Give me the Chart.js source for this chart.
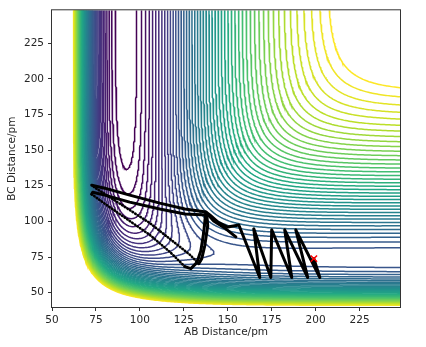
<!DOCTYPE html>
<html>
<head>
<meta charset="utf-8">
<script src="https://cdn.jsdelivr.net/npm/chart.js@4.4.0/dist/chart.umd.min.js"></script>
<style>
  html, body { margin: 0; padding: 0; background: #fff; }
  #pes { display: block; }
</style>
</head>
<body>
<canvas id="pes" width="426" height="347"></canvas>
<script>
// Collinear F-H-H LEPS surface. Pair order: AB (F-H), BC (H-H), AC (F-H)
const wellDepth = [590, 458, 590];              // kJ/mol
const bondLength = [91.7, 74.1, 91.7];          // pm
const morseBeta = [0.02219, 0.01942, 0.02219];  // 1/pm
const satoK = [0.167, 0.19, 0.167];

// contour levels (kJ/mol)
const levelLow = -579;
const levelHigh = -89;
const levelStep = 10;

const xTicks = [50, 75, 100, 125, 150, 175, 200, 225];
const yTicks = [50, 75, 100, 125, 150, 175, 200, 225];

// trajectory [AB, BC] in pm, split into the dense and the sparse stretches
const trajApproach = [
  [199.0, 73.9], [202.4, 60.7], [188.7, 94.1], [195.5, 60.7], [182.4, 94.1],
  [186.4, 60.7], [175.0, 94.1], [174.5, 60.7], [164.8, 94.8], [168.2, 60.7],
  [156.3, 97.5], [150.0, 96.1], [144.3, 99.6], [139.8, 104.5], [137.5, 106.6],
  [136.3, 92.0], [134.7, 79.4], [132.4, 71.1], [129.0, 66.9], [125.6, 68.3]
];
const trajFast1 = [
  [125.6, 68.3], [117.0, 78.7], [105.6, 90.6], [94.2, 100.3], [82.8, 110.0],
  [74.9, 117.0], [72.6, 119.1]
];
const trajReturn1 = [
  [72.6, 119.1], [73.2, 120.5], [80.0, 118.4], [94.2, 113.5], [111.3, 108.7],
  [125.6, 105.2], [138.1, 104.5], [138.6, 96.8], [136.9, 82.9], [135.2, 73.9],
  [133.5, 70.4]
];
const trajFast2 = [
  [133.5, 70.4], [128.4, 76.7], [117.0, 87.8], [105.6, 98.9], [94.2, 108.0],
  [82.8, 117.0], [74.9, 123.3], [72.6, 125.4]
];
const trajReturn2 = [
  [72.6, 125.4], [80.0, 123.3], [94.2, 118.4], [111.3, 112.8], [125.6, 108.7],
  [137.5, 106.6], [142.0, 100.3], [148.9, 94.8], [154.6, 89.2]
];
const startPoint = [[199.0, 73.9]];

// viridis, sampled every 0.1
const viridis = ['#440154', '#482475', '#414487', '#355f8d', '#2a788e', '#21918c',
                 '#22a884', '#44bf70', '#7ad151', '#bddf26', '#fde725'];

function hexRgb(h) {
  return [1, 3, 5].map(i => parseInt(h.slice(i, i + 2), 16));
}
function cmap(t) {
  t = Math.min(1, Math.max(0, t)) * (viridis.length - 1);
  const i = Math.min(viridis.length - 2, Math.floor(t)), f = t - i;
  const a = hexRgb(viridis[i]), b = hexRgb(viridis[i + 1]);
  return 'rgb(' + a.map((v, k) => Math.round(v + (b[k] - v) * f)).join(',') + ')';
}

function leps(rab, rbc) {
  const r = [rab, rbc, rab + rbc];
  const Q = [], J = [];
  for (let i = 0; i < 3; i++) {
    const e1 = Math.exp(-morseBeta[i] * (r[i] - bondLength[i]));
    const e2 = e1 * e1;
    const k = satoK[i];
    const f = wellDepth[i] / (4 * (1 + k));
    Q.push(f * ((3 + k) * e2 - (2 + 6 * k) * e1));
    J.push(f * ((1 + 3 * k) * e2 - (6 + 2 * k) * e1));
  }
  const s = ((J[0] - J[1]) ** 2 + (J[1] - J[2]) ** 2 + (J[2] - J[0]) ** 2) / 2;
  return Q[0] + Q[1] + Q[2] - Math.sqrt(s);
}

// grid over the plotted range
const xs = [], ys = [];
for (let x = 50; x <= 248; x += 1) xs.push(x);
for (let y = 40; y <= 248; y += 1) ys.push(y);
const nx = xs.length, ny = ys.length;
const V = new Float64Array(nx * ny);
for (let j = 0; j < ny; j++)
  for (let i = 0; i < nx; i++) V[j * nx + i] = leps(xs[i], ys[j]);

// marching squares, segments joined into polylines
function contourLines(level) {
  const edgePoint = id => {
    const k = id >> 1, i = k % nx, j = (k - i) / nx;
    const a = V[j * nx + i];
    if (id & 1) {
      const b = V[(j + 1) * nx + i];
      return { x: xs[i], y: ys[j] + (level - a) / (b - a) * (ys[j + 1] - ys[j]) };
    }
    const b = V[j * nx + i + 1];
    return { x: xs[i] + (level - a) / (b - a) * (xs[i + 1] - xs[i]), y: ys[j] };
  };

  const segs = [];
  for (let j = 0; j < ny - 1; j++) {
    for (let i = 0; i < nx - 1; i++) {
      const v00 = V[j * nx + i], v10 = V[j * nx + i + 1];
      const v01 = V[(j + 1) * nx + i], v11 = V[(j + 1) * nx + i + 1];
      const b00 = v00 >= level, b10 = v10 >= level, b01 = v01 >= level, b11 = v11 >= level;
      const eB = 2 * (j * nx + i), eT = 2 * ((j + 1) * nx + i);
      const eL = 2 * (j * nx + i) + 1, eR = 2 * (j * nx + i + 1) + 1;
      const cut = [];
      if (b00 !== b10) cut.push(eB);
      if (b10 !== b11) cut.push(eR);
      if (b01 !== b11) cut.push(eT);
      if (b00 !== b01) cut.push(eL);
      if (cut.length === 2) {
        segs.push(cut);
      } else if (cut.length === 4) {
        const mid = (v00 + v10 + v01 + v11) / 4 >= level;
        if (b00 !== mid) segs.push([eL, eB], [eR, eT]);
        else segs.push([eB, eR], [eT, eL]);
      }
    }
  }

  const byEdge = new Map();
  segs.forEach((s, n) => s.forEach(e => {
    if (!byEdge.has(e)) byEdge.set(e, []);
    byEdge.get(e).push(n);
  }));
  const used = new Uint8Array(segs.length);
  const extend = chain => {
    for (;;) {
      const last = chain[chain.length - 1];
      const next = byEdge.get(last).find(m => !used[m]);
      if (next === undefined) return;
      used[next] = 1;
      const s = segs[next];
      chain.push(s[0] === last ? s[1] : s[0]);
    }
  };

  const lines = [];
  for (let n = 0; n < segs.length; n++) {
    if (used[n]) continue;
    used[n] = 1;
    const chain = segs[n].slice();
    extend(chain);
    chain.reverse();
    extend(chain);
    lines.push(chain.map(edgePoint));
  }
  return lines;
}

const contourSets = [];
for (let lv = levelLow; lv <= levelHigh + 1e-9; lv += levelStep) {
  const pts = [];
  for (const line of contourLines(lv)) {
    if (pts.length) pts.push({ x: line[0].x, y: null });
    for (const p of line) pts.push(p);
  }
  contourSets.push({
    data: pts,
    showLine: true,
    borderColor: cmap((lv - levelLow) / (levelHigh - levelLow)),
    borderWidth: 1.5,
    pointRadius: 0,
    spanGaps: false,
    order: 2
  });
}

const toXY = arr => arr.map(p => ({ x: p[0], y: p[1] }));
const solid = arr => ({
  data: toXY(arr), showLine: true, borderColor: '#000', borderWidth: 3,
  borderJoinStyle: 'round', borderCapStyle: 'round', pointRadius: 0, order: 1
});
const dotted = arr => ({
  data: toXY(arr), showLine: true, borderColor: '#000', borderWidth: 2.6,
  borderDash: [0.5, 2.6], borderCapStyle: 'round', pointRadius: 0, order: 1
});

const frame = {
  id: 'frame',
  afterDraw(chart) {
    const { ctx, chartArea: a } = chart;
    ctx.save();
    ctx.strokeStyle = '#333';
    ctx.lineWidth = 1;
    ctx.strokeRect(a.left - 0.5, a.top - 0.5, a.right - a.left + 1, a.bottom - a.top + 1);
    ctx.restore();
  }
};

Chart.defaults.font.family = '"DejaVu Sans", sans-serif';
Chart.defaults.font.size = 10.5;
Chart.defaults.color = '#262626';

new Chart(document.getElementById('pes'), {
  type: 'scatter',
  data: {
    datasets: [
      {
        data: toXY(startPoint), pointStyle: 'crossRot', pointRadius: 4.5,
        pointBorderColor: 'red', pointBorderWidth: 1.5, showLine: false, order: 0
      },
      solid(trajApproach), dotted(trajFast1), solid(trajReturn1),
      dotted(trajFast2), solid(trajReturn2),
      ...contourSets
    ]
  },
  options: {
    responsive: false,
    animation: false,
    events: [],
    layout: { padding: { left: 0, top: 8, right: 26, bottom: 0 } },
    plugins: { legend: { display: false }, tooltip: { enabled: false } },
    scales: {
      x: {
        type: 'linear', min: 50, max: 248,
        afterBuildTicks: s => { s.ticks = xTicks.map(v => ({ value: v })); },
        afterFit: s => { s.height = 40; },
        ticks: { padding: 3 },
        grid: { drawOnChartArea: false, tickLength: 4, tickColor: '#333' },
        border: { display: false },
        title: { display: true, text: 'AB Distance/pm', padding: { top: 0, bottom: 8 } }
      },
      y: {
        type: 'linear', min: 40, max: 248,
        afterBuildTicks: s => { s.ticks = yTicks.map(v => ({ value: v })); },
        afterFit: s => { s.width = 52; },
        ticks: { padding: 4 },
        grid: { drawOnChartArea: false, tickLength: 4, tickColor: '#333' },
        border: { display: false },
        title: { display: true, text: 'BC Distance/pm', padding: { top: 6, bottom: 0 } }
      }
    }
  },
  plugins: [frame]
});
</script>
</body>
</html>
